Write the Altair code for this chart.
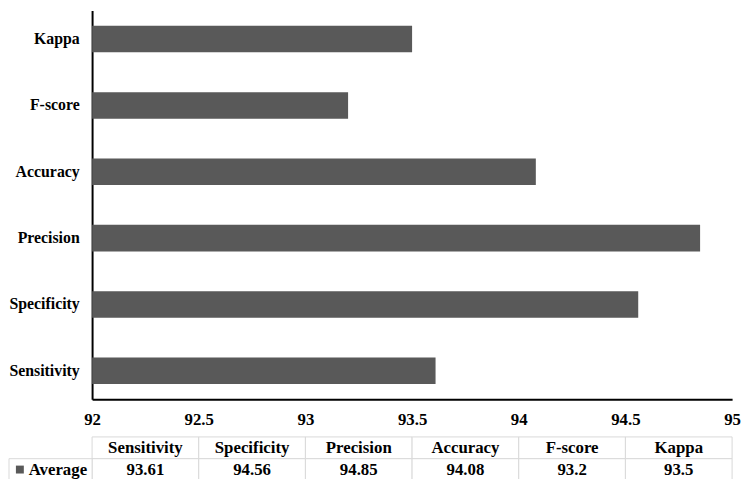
import altair as alt
import pandas as pd

metrics = ["Sensitivity", "Specificity", "Precision", "Accuracy", "F-score", "Kappa"]
averages = [93.61, 94.56, 94.85, 94.08, 93.2, 93.5]
x_ticks = [92, 92.5, 93, 93.5, 94, 94.5, 95]
x_domain = [92, 95]
series_name = "Average"
table_rows = ["header", "value"]

FONT = "'Liberation Serif', 'Times New Roman', Times, serif"
BAR_COLOR = "#595959"
GRID_COLOR = "#d9d9d9"

bar_order = list(reversed(metrics))  # Kappa at the top

df = pd.DataFrame({"metric": metrics, "value": averages})

bars = alt.Chart(df).mark_bar(color=BAR_COLOR, clip=True).encode(
    x=alt.X(
        "value:Q",
        scale=alt.Scale(domain=x_domain, zero=False, nice=False),
        axis=alt.Axis(
            title=None, values=x_ticks, format="~g", ticks=False,
            grid=False, labelFont=FONT, labelFontSize=17, labelFontWeight="bold",
            labelColor="black", labelPadding=12, domainColor="black",
            domainWidth=2, labelFlush=False,
        ),
    ),
    x2=alt.datum(x_domain[0]),
    y=alt.Y(
        "metric:N",
        sort=bar_order,
        scale=alt.Scale(paddingInner=0.6, paddingOuter=0.23),
        axis=alt.Axis(
            title=None, ticks=False, labelFont=FONT, labelFontSize=16,
            labelFontWeight="bold", labelColor="black", labelPadding=13,
            domainColor="black", domainWidth=2, labelLimit=200,
        ),
    ),
).properties(width=647, height=393)

# table under the chart
tdf = pd.DataFrame({
    "metric": metrics * 2,
    "row": [table_rows[0]] * len(metrics) + [table_rows[1]] * len(metrics),
    "label": metrics + [str(v) for v in averages],
})
legend_df = pd.DataFrame({"row": [table_rows[1]], "label": [series_name]})

tx = alt.X("metric:N", scale=alt.Scale(domain=metrics, paddingInner=0, paddingOuter=0), axis=None)
ty = alt.Y("row:N", scale=alt.Scale(domain=table_rows, paddingInner=0, paddingOuter=0), axis=None)

cells = alt.Chart(tdf).mark_rect(fill="white", stroke=GRID_COLOR, strokeWidth=1).encode(x=tx, y=ty)
texts = alt.Chart(tdf).mark_text(
    font=FONT, fontSize=17, fontWeight="bold", color="black"
).encode(x=tx, y=ty, text="label:N")

leg_cell = alt.Chart(legend_df).mark_rect(fill="white", stroke=GRID_COLOR, strokeWidth=1).encode(
    x=alt.value(-84), x2=alt.value(0), y=ty
)
leg_square = alt.Chart(legend_df).mark_square(size=64, color=BAR_COLOR, opacity=1).encode(
    x=alt.value(-73), y=ty
)
leg_text = alt.Chart(legend_df).mark_text(
    font=FONT, fontSize=17, fontWeight="bold", color="black", align="right"
).encode(x=alt.value(-5), y=ty, text="label:N")

table = alt.layer(cells, texts, leg_cell, leg_square, leg_text).properties(width=647, height=44)

chart = alt.vconcat(bars, table, spacing=9).properties(padding=0).configure(
    font=FONT
).configure_view(strokeOpacity=0, strokeWidth=0)

chart.save("out.html", embed_options={"renderer": "svg", "actions": False})
